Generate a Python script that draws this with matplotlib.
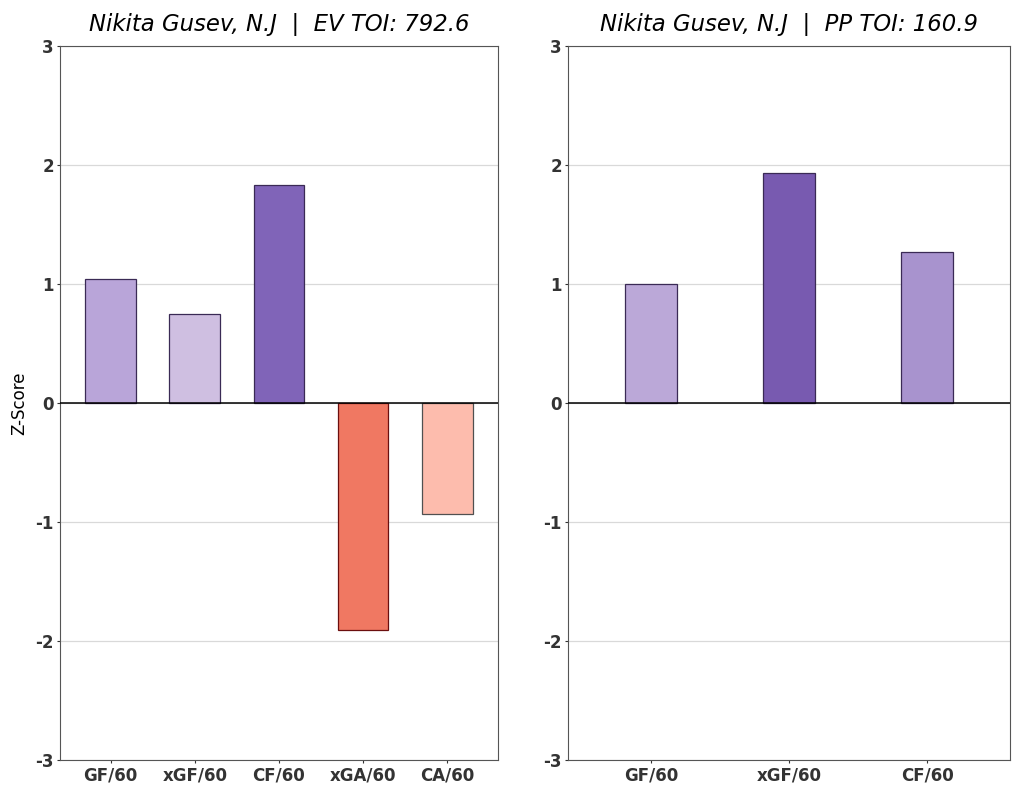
import matplotlib
matplotlib.use('Agg')
import matplotlib.pyplot as plt
import numpy as np

plt.rcParams['font.family'] = ['DejaVu Sans']
plt.rcParams['axes.unicode_minus'] = False

ev_labels = ['GF/60', 'xGF/60', 'CF/60', 'xGA/60', 'CA/60']
ev_values = [1.04, 0.75, 1.83, -1.91, -0.93]
ev_colors = ['#b9a5d9', '#cfbfe1', '#8064b8', '#f07862', '#fdbcad']
ev_edges = ['#3a2a55', '#3a2a55', '#3a2a55', '#6b0f0f', '#505050']

pp_labels = ['GF/60', 'xGF/60', 'CF/60']
pp_values = [1.00, 1.93, 1.27]
pp_colors = ['#bba8d8', '#785ab0', '#a893ce']
pp_edges = ['#3a2a55', '#3a2a55', '#3a2a55']

titles = ['Nikita Gusev, N.J  |  EV TOI: 792.6', 'Nikita Gusev, N.J  |  PP TOI: 160.9']

fig = plt.figure(figsize=(10.24, 7.89), dpi=100)
ax1 = fig.add_axes([0.0586, 0.0368, 0.4277, 0.905])
ax2 = fig.add_axes([0.5547, 0.0368, 0.4316, 0.905])

panels = [(ax1, ev_labels, ev_values, ev_colors, ev_edges, 0.6),
          (ax2, pp_labels, pp_values, pp_colors, pp_edges, 0.38)]

for i, (ax, labels, values, colors, edges, w) in enumerate(panels):
    x = np.arange(len(labels))
    ax.bar(x, values, width=w, color=colors, edgecolor=edges, linewidth=0.9, zorder=3)
    ax.axhline(0, color='black', linewidth=1.1, zorder=4)
    ax.set_ylim(-3, 3)
    ax.set_xlim(-0.6, len(labels) - 0.4)
    ax.set_yticks([-3, -2, -1, 0, 1, 2, 3])
    ax.set_xticks(x)
    ax.set_xticklabels(labels)
    ax.yaxis.grid(True, color='#d9d9d9', linewidth=0.9, zorder=0)
    ax.tick_params(axis='both', labelsize=12, colors='#333333', length=2.5, pad=2)
    for lab in ax.get_xticklabels() + ax.get_yticklabels():
        lab.set_fontweight('bold')
    for s in ax.spines.values():
        s.set_color('#555555')
    ax.set_title(titles[i], fontsize=16.4, style='italic', pad=11)

ax1.set_ylabel('Z-Score', fontsize=12, labelpad=5)

plt.savefig('out.png', dpi=100)
